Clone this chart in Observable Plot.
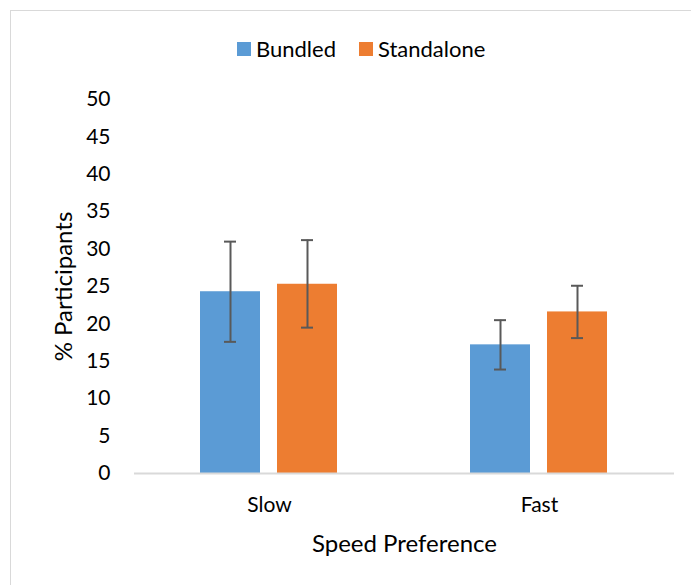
<!DOCTYPE html>
<html>
<head>
<meta charset="utf-8">
<script src="https://cdn.jsdelivr.net/npm/d3@7"></script>
<script src="https://cdn.jsdelivr.net/npm/@observablehq/plot@0.6"></script>
<style>
  html, body { margin: 0; padding: 0; background: #fff; overflow: hidden; }
  body { position: relative; width: 691px; height: 585px; font-family: Lato, "Open Sans", sans-serif; }
  #frame { position: absolute; left: 10px; top: 10px; width: 706px; height: 600px; border: 1.5px solid #d9d9d9; box-sizing: border-box; }
  #legend { position: absolute; top: 35px; left: 237px; display: flex; align-items: center; font-size: 22px; color: #000; }
  #legend .sw { width: 14px; height: 14px; display: inline-block; margin-right: 5px; }
  #legend .item { display: flex; align-items: center; margin-right: 23px; }
  #chart { position: absolute; left: 0; top: 0; }
  #chart svg g[aria-label="fx-axis label"] text, #chart svg g[aria-label="y-axis label"] text { font-size: 24px; }
</style>
</head>
<body>
<div id="frame"></div>
<div id="chart"></div>
<div id="legend"></div>
<script>
const categories = ["Slow", "Fast"];
const series = ["Bundled", "Standalone"];
const colors = ["#5B9BD5", "#ED7D31"];
const values = { Bundled: [24.3, 17.2], Standalone: [25.3, 21.6] };
const lows  = { Bundled: [17.6, 13.9], Standalone: [19.5, 18.1] };
const highs = { Bundled: [31.0, 20.5], Standalone: [31.2, 25.1] };
const yTicks = [0, 5, 10, 15, 20, 25, 30, 35, 40, 45, 50];

const data = [];
categories.forEach((c, i) => series.forEach(s => data.push({
  category: c, series: s, value: values[s][i], lo: lows[s][i], hi: highs[s][i]
})));

const chart = Plot.plot({
  width: 691,
  height: 585,
  marginTop: 99,
  marginBottom: 112,
  marginLeft: 134,
  marginRight: 17,
  style: { fontFamily: "Lato, 'Open Sans', sans-serif", fontSize: "21px", color: "#000", background: "transparent" },
  fx: { domain: categories, padding: 0, label: "Speed Preference", labelAnchor: "center", labelArrow: "none", tickSize: 0, tickPadding: 24, labelOffset: 78 },
  x: { domain: series, paddingInner: 0.22, paddingOuter: 0.852, axis: null },
  y: { domain: [0, 50], ticks: yTicks, tickSize: 0, tickPadding: 24, label: "% Participants", labelAnchor: "center", labelArrow: "none", labelOffset: 80 },
  color: { domain: series, range: colors },
  marks: [
    Plot.barY(data, { fx: "category", x: "series", y: "value", fill: "series" }),
    Plot.ruleY([0], { stroke: "#d9d9d9", strokeWidth: 2 }),
    Plot.ruleX(data, { fx: "category", x: "series", y1: "lo", y2: "hi", stroke: "#595959", strokeWidth: 2 }),
    Plot.tickY(data, { fx: "category", x: "series", y: "lo", stroke: "#595959", strokeWidth: 2, inset: 24 }),
    Plot.tickY(data, { fx: "category", x: "series", y: "hi", stroke: "#595959", strokeWidth: 2, inset: 24 })
  ]
});
document.getElementById("chart").appendChild(chart);

const legend = document.getElementById("legend");
series.forEach((s, i) => {
  const item = document.createElement("div");
  item.className = "item";
  const sw = document.createElement("span");
  sw.className = "sw";
  sw.style.background = colors[i];
  item.appendChild(sw);
  item.appendChild(document.createTextNode(s));
  legend.appendChild(item);
});
</script>
</body>
</html>
